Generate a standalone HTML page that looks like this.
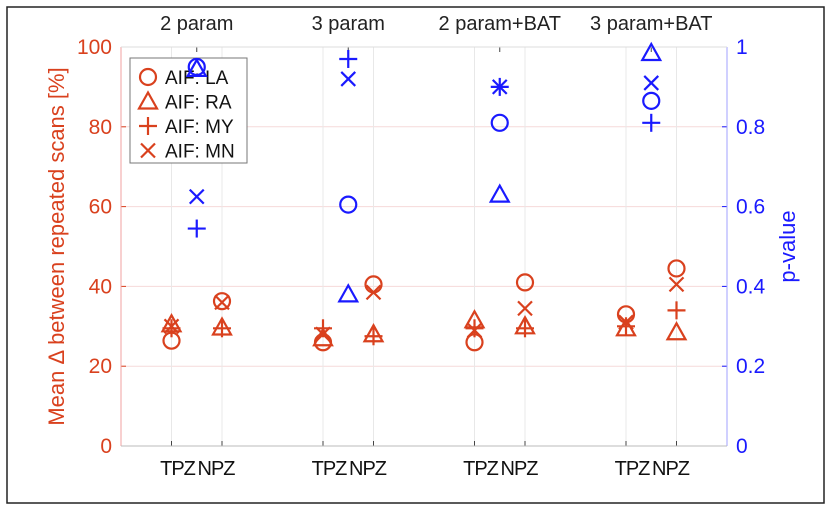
<!DOCTYPE html>
<html><head><meta charset="utf-8"><style>
body{margin:0;background:#fff;}
svg text{font-family:"Liberation Sans",sans-serif;}
</style></head><body>
<svg id="chart" width="831" height="511">
<rect x="7" y="7" width="817" height="496" fill="#fff" stroke="#222" stroke-width="1.5"/>
<g id="grid"></g>
<g id="axes"></g>
<g id="marks"></g>
<g id="legend"></g>
</svg>
<script>
const groups = ["2 param","3 param","2 param+BAT","3 param+BAT"];
const subLabels = ["TPZ","NPZ"];
const leftTicks = [0,20,40,60,80,100];
const rightTicks = ["0","0.2","0.4","0.6","0.8","1"];
const aifs = ["LA","RA","MY","MN"];
const markers = ["o","^","+","x"];
// Red: mean delta [%] per group, per AIF (LA, RA, MY, MN)
const tpzLA = [26.4,26,26,33];
const tpzRA = [30.5,27,31.5,29.5];
const tpzMY = [29.5,29.5,29.5,30];
const tpzMN = [30,28,29,31];
const npzLA = [36.3,40.5,41,44.5];
const npzRA = [29.7,28,30,28.5];
const npzMY = [29.5,27.5,29.5,34];
const npzMN = [36,38.5,34.5,40.5];
// Blue: p-values
const pLA = [0.95,0.605,0.81,0.865];
const pRA = [0.945,0.38,0.63,0.985];
const pMY = [0.545,0.97,0.90,0.81];
const pMN = [0.625,0.92,0.90,0.91];

const RED="#d9411e", BLUE="#1a1aff";
const L=121,R=727,T=47,B=446;
const xs=v=>L+(v/12)*(R-L);
const ys=v=>B-(v/100)*(B-T);
const yp=v=>B-v*(B-T);
const NS="http://www.w3.org/2000/svg";
function mk(tag,attrs,parent,text){const e=document.createElementNS(NS,tag);for(const k in attrs)e.setAttribute(k,attrs[k]);if(text!==undefined)e.textContent=text;parent.appendChild(e);return e;}
const grid=document.getElementById('grid'),axes=document.getElementById('axes'),marks=document.getElementById('marks'),leg=document.getElementById('legend');

leftTicks.forEach((t,i)=>{
  if(t>0&&t<100){const g=mk('line',{x1:L,x2:R,y1:ys(t),y2:ys(t),stroke:"#f6dada","stroke-width":1},grid);
  
  }
  const a=mk('text',{x:L-9,y:ys(t)+7,"text-anchor":"end","font-size":21,fill:RED},axes,String(t));
  
  
  mk('line',{x1:L,x2:L+5,y1:ys(t),y2:ys(t),stroke:RED},axes);
  const b=mk('text',{x:R+9,y:yp(i*0.2)+7,"font-size":21,fill:BLUE},axes,rightTicks[i]);
  
  
  mk('line',{x1:R-5,x2:R,y1:yp(i*0.2),y2:yp(i*0.2),stroke:BLUE},axes);
});
groups.forEach((g,i)=>{
  [1,2].forEach(k=>{const xv=i*3+k;
    const v=mk('line',{x1:xs(xv),x2:xs(xv),y1:T,y2:B,stroke:"#e8e8e8"},grid);
    
    
    mk('line',{x1:xs(xv),x2:xs(xv),y1:B,y2:B-5,stroke:"#444"},axes);
    const s=mk('text',{x:xs(xv)+(k===1?6:-6),y:B+29,"text-anchor":"middle","font-size":20,fill:"#111","letter-spacing":"-1"},axes,subLabels[k-1]);
    
    
  });
  const xc=xs(i*3+1.5);
  mk('line',{x1:xc,x2:xc,y1:T,y2:T+5,stroke:"#444"},axes);
  const t=mk('text',{x:xc,y:30,"text-anchor":"middle","font-size":20,fill:"#222"},axes,g);
  
  
});
mk('line',{x1:L,x2:L,y1:T,y2:B,stroke:"#f0a0a0"},axes);
mk('line',{x1:R,x2:R,y1:T,y2:B,stroke:"#a0a0ff"},axes);
mk('line',{x1:L,x2:R,y1:B,y2:B,stroke:"#bbb"},axes);
mk('line',{x1:L,x2:R,y1:T,y2:T,stroke:"#ddd"},axes);
const yl=mk('text',{x:0,y:0,"font-size":22,fill:RED,"text-anchor":"middle",transform:`translate(64,${(T+B)/2}) rotate(-90)`},axes,"Mean \u0394 between repeated scans [%]");


const yr=mk('text',{x:0,y:0,"font-size":22,fill:BLUE,"text-anchor":"middle",transform:`translate(795,${(T+B)/2}) rotate(-90)`},axes,"p-value");



function marker(type,x,y,color,parent){
  const g=mk('g',{fill:"none",stroke:color,"stroke-width":2.2},parent);
  if(type==="o")mk('circle',{cx:x,cy:y,r:8},g);
  else if(type==="^")mk('polygon',{points:`${x},${y-9} ${x-9},${y+7} ${x+9},${y+7}`},g);
  else if(type==="+"){mk('line',{x1:x-9,x2:x+9,y1:y,y2:y},g);mk('line',{x1:x,x2:x,y1:y-9,y2:y+9},g);}
  else if(type==="x"){mk('line',{x1:x-7,x2:x+7,y1:y-7,y2:y+7},g);mk('line',{x1:x-7,x2:x+7,y1:y+7,y2:y-7},g);}
  return g;
}
const tpz=[tpzLA,tpzRA,tpzMY,tpzMN], npz=[npzLA,npzRA,npzMY,npzMN], pv=[pLA,pRA,pMY,pMN];
groups.forEach((g,i)=>{
  aifs.forEach((a,j)=>{
    const m1=marker(markers[j],xs(i*3+1),ys(tpz[j][i]),RED,marks);
    
    
    const m2=marker(markers[j],xs(i*3+2),ys(npz[j][i]),RED,marks);
    
    
    const m3=marker(markers[j],xs(i*3+1.5),yp(pv[j][i]),BLUE,marks);
    
    
  });
});
mk('rect',{x:130,y:58,width:117,height:105,fill:"#fff",stroke:"#777"},leg);
aifs.forEach((a,j)=>{
  const y=77+j*24.5;
  marker(markers[j],148,y,RED,leg);
  const t=mk('text',{x:165,y:y+7,"font-size":19,fill:"#111"},leg,"AIF: "+a);
  
  
});
groups.forEach((g,i)=>{if(i===0)[0,1].forEach(j=>{marker(markers[j],xs(1.5),yp(pv[j][0]),BLUE,leg);});});
</script>
</body></html>
